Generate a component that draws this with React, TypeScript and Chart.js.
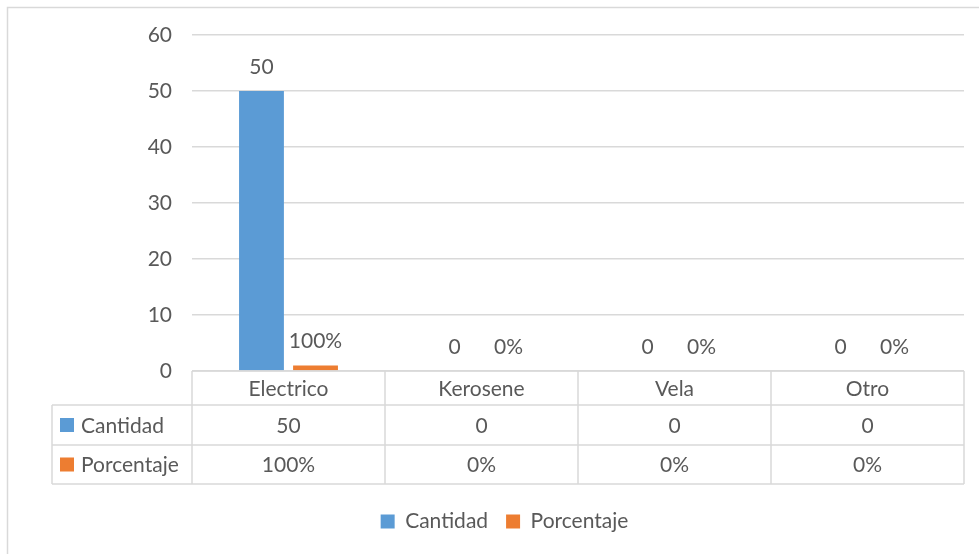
import React, { useEffect, useRef } from "react";
import { Chart, registerables } from "chart.js";

Chart.register(...registerables);

const categories = ["Electrico", "Kerosene", "Vela", "Otro"];
const cantidad = [50, 0, 0, 0];
const porcentaje = [1, 0, 0, 0];
const seriesNames = ["Cantidad", "Porcentaje"];
const colors = ["#5b9bd5", "#ed7d31"];
const yMin = 0;
const yMax = 60;
const yStep = 10;

const FONT = "Lato";
const TEXT = "#595959";
const LINE = "#d9d9d9";
const FS = 21;

const fmt = (d: number, v: number) => (d === 0 ? String(v) : `${Math.round(v * 100)}%`);

const frame = {
  id: "frame",
  beforeDraw(chart: any) {
    const ctx = chart.ctx;
    ctx.save();
    ctx.strokeStyle = LINE;
    ctx.lineWidth = 1.5;
    ctx.strokeRect(7.5, 7.5, 2000, 2000);
    ctx.restore();
  },
};

const dataLabels = {
  id: "dataLabels",
  afterDatasetsDraw(chart: any) {
    const ctx = chart.ctx;
    ctx.save();
    ctx.font = `${FS}px ${FONT}`;
    ctx.fillStyle = TEXT;
    ctx.textAlign = "center";
    ctx.textBaseline = "middle";
    chart.data.datasets.forEach((ds: any, d: number) => {
      const meta = chart.getDatasetMeta(d);
      meta.data.forEach((el: any, i: number) => {
        ctx.fillText(fmt(d, ds.data[i]), el.x, el.y - 24);
      });
    });
    ctx.restore();
  },
};

const dataTable = {
  id: "dataTable",
  afterDraw(chart: any) {
    const ctx = chart.ctx;
    const x = chart.scales.x;
    const area = chart.chartArea;
    const top = area.bottom;
    const rows = [top, top + 34, top + 74, top + 113];
    const leftX = 52;
    const n = categories.length;
    const cw = (area.right - area.left) / n;
    ctx.save();
    ctx.strokeStyle = LINE;
    ctx.lineWidth = 1.5;
    ctx.beginPath();
    ctx.moveTo(area.left, rows[0]);
    ctx.lineTo(area.right, rows[0]);
    for (let r = 1; r < rows.length; r++) {
      ctx.moveTo(leftX, rows[r]);
      ctx.lineTo(area.right, rows[r]);
    }
    for (let i = 0; i <= n; i++) {
      const vx = area.left + i * cw;
      ctx.moveTo(vx, rows[0]);
      ctx.lineTo(vx, rows[3]);
    }
    ctx.moveTo(leftX, rows[1]);
    ctx.lineTo(leftX, rows[3]);
    ctx.stroke();

    ctx.font = `${FS}px ${FONT}`;
    ctx.fillStyle = TEXT;
    ctx.textAlign = "center";
    ctx.textBaseline = "middle";
    const series = [cantidad, porcentaje];
    categories.forEach((c, i) => {
      const cx = x.getPixelForValue(i);
      ctx.fillText(c, cx, (rows[0] + rows[1]) / 2 + 1);
      series.forEach((s, d) => {
        ctx.fillText(fmt(d, s[i]), cx, (rows[d + 1] + rows[d + 2]) / 2 + 1);
      });
    });
    ctx.textAlign = "left";
    seriesNames.forEach((name, d) => {
      const cy = (rows[d + 1] + rows[d + 2]) / 2;
      ctx.fillStyle = colors[d];
      ctx.fillRect(60, cy - 7, 14, 14);
      ctx.fillStyle = TEXT;
      ctx.fillText(name, 81, cy + 1);
    });
    ctx.restore();
  },
};

export default function App() {
  const ref = useRef<HTMLCanvasElement>(null);
  useEffect(() => {
    if (!ref.current) return;
    Chart.defaults.font.family = FONT;
    Chart.defaults.font.size = FS;
    Chart.defaults.color = TEXT;
    const chart = new Chart(ref.current, {
      type: "bar",
      data: {
        labels: categories,
        datasets: [
          {
            label: seriesNames[0],
            data: cantidad,
            backgroundColor: colors[0],
            categoryPercentage: 0.56,
            barPercentage: 0.83,
          },
          {
            label: seriesNames[1],
            data: porcentaje,
            backgroundColor: colors[1],
            categoryPercentage: 0.56,
            barPercentage: 0.83,
          },
        ],
      },
      options: {
        animation: false,
        responsive: false,
        layout: { padding: { left: 45, right: 15, top: 35, bottom: 12 } },
        plugins: {
          legend: {
            position: "bottom",
            labels: {
              boxWidth: 14,
              boxHeight: 14,
              padding: 18,
              color: TEXT,
              font: { size: FS, family: FONT },
            },
          },
          tooltip: { enabled: false },
        },
        scales: {
          x: {
            ticks: { display: false },
            grid: { display: false },
            border: { display: false },
            afterFit: (s: any) => {
              s.height = 122;
            },
          },
          y: {
            min: yMin,
            max: yMax,
            ticks: { stepSize: yStep, padding: 20, color: TEXT, font: { size: FS, family: FONT } },
            grid: { color: LINE, lineWidth: 1.5, drawTicks: false },
            border: { display: false },
            afterFit: (s: any) => {
              s.width = 147;
            },
          },
        },
      },
      plugins: [frame, dataLabels, dataTable],
    });
    return () => chart.destroy();
  }, []);
  return (
    <div style={{ position: "absolute", left: 0, top: 0, width: 979, height: 554, background: "#fff" }}>
      <canvas ref={ref} width={979} height={554} />
    </div>
  );
}
